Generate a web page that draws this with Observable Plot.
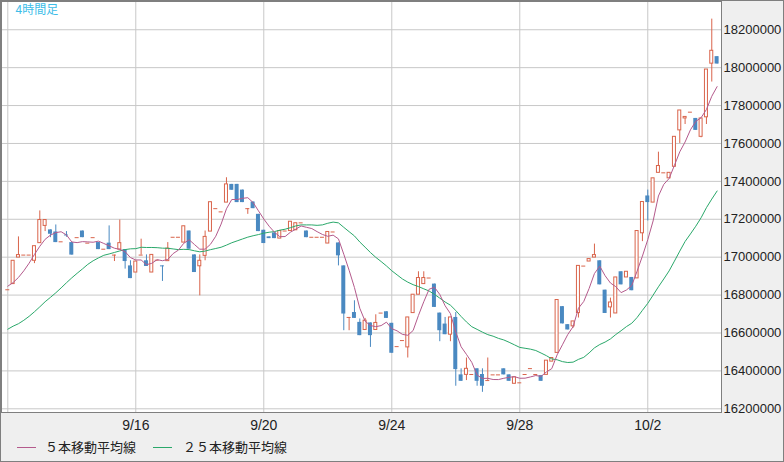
<!DOCTYPE html>
<html><head><meta charset="utf-8">
<script src="https://cdn.jsdelivr.net/npm/d3@7"></script>
<script src="https://cdn.jsdelivr.net/npm/@observablehq/plot@0.6"></script>
<style>
html,body{margin:0;padding:0;background:#efefef;}
#wrap{width:784px;height:462px;box-sizing:border-box;border:1px solid #7f7f7f;background:#efefef;position:relative;overflow:hidden;}
#chart svg{display:block;}
.lg-line{position:absolute;height:1px;width:19px;}
.lg-text{position:absolute;font-family:"Noto Sans CJK JP",sans-serif;font-size:13px;color:#222;line-height:16px;white-space:nowrap;}
</style></head><body>
<div id="wrap"><div id="chart"></div>
<div class="lg-line" style="left:16px;top:446px;background:#b45a8c"></div>
<div class="lg-text" style="left:44px;top:438px">５本移動平均線</div>
<div class="lg-line" style="left:152px;top:446px;background:#2aa86a"></div>
<div class="lg-text" style="left:182px;top:438px">２５本移動平均線</div>
</div>
<script>
// 4-hour bars starting 9/12 00:00
const barStart = "2025-09-12T00:00Z";
const barHours = 4;
const open = [16828000,16858000,16998000,17011000,17011000,16981000,17074000,17165000,17144000,17133000,
17081000,17117000,17077000,17103000,17138000,17074000,17103000,17077000,17042000,17074000,
17011000,17040000,17040000,16954000,16919000,17011000,16981000,16919000,16984000,16954000,
16979000,17105000,17105000,17077000,17138000,17012000,16952000,17007000,17135000,17256000,
17239000,17288000,17384000,17384000,17354000,17256000,17291000,17226000,17142000,17107000,
17128000,17098000,17138000,17138000,17142000,17181000,17138000,17105000,17105000,17105000,
17072000,17133000,17075000,16954000,16682000,16708000,16656000,16616000,16653000,16616000,
16705000,16712000,16651000,16528000,16560000,16524000,16705000,16802000,16858000,16890000,
16858000,16705000,16647000,16591000,16682000,16379000,16379000,16381000,16411000,16381000,
16349000,16379000,16379000,16411000,16379000,16332000,16337000,16381000,16412000,16381000,
16375000,16379000,16449000,16495000,16739000,16644000,16635000,16705000,16953000,16977000,
16998000,16981000,16826000,16735000,16703000,16923000,16893000,16893000,16888000,17126000,
17323000,17288000,17445000,17445000,17416000,17477000,17669000,17732000,17765000,17732000,
17635000,17738000,18021000,18058000];
const high = [16828000,16981000,17107000,17011000,17011000,17058000,17244000,17196000,17144000,17170000,
17081000,17135000,17077000,17103000,17138000,17074000,17103000,17077000,17042000,17165000,
17011000,17196000,17040000,16981000,16977000,17095000,17012000,17012000,16984000,16954000,
17077000,17105000,17105000,17163000,17138000,17012000,17012000,17138000,17290000,17256000,
17239000,17419000,17384000,17384000,17354000,17256000,17291000,17226000,17142000,17107000,
17128000,17138000,17138000,17187000,17179000,17181000,17138000,17105000,17105000,17105000,
17133000,17133000,17075000,16954000,16682000,16770000,16674000,16677000,16653000,16696000,
16705000,16712000,16651000,16528000,16560000,16682000,16802000,16923000,16923000,16890000,
16858000,16705000,16682000,16682000,16708000,16411000,16468000,16381000,16411000,16411000,
16468000,16379000,16379000,16411000,16379000,16366000,16337000,16381000,16412000,16381000,
16375000,16454000,16468000,16774000,16739000,16644000,16661000,16954000,16953000,16990000,
17069000,16981000,16826000,16784000,16893000,16923000,16923000,16893000,17138000,17291000,
17354000,17416000,17554000,17445000,17445000,17635000,17774000,17740000,17765000,17732000,
17732000,17990000,18256000,18058000];
const low = [16828000,16858000,16998000,17011000,17011000,16966000,17074000,17135000,17103000,17077000,
17081000,17105000,17011000,17103000,17103000,17074000,17103000,17040000,17042000,17040000,
16977000,17040000,16937000,16887000,16919000,17011000,16951000,16919000,16984000,16872000,
16979000,17105000,17105000,17077000,17042000,16919000,16796000,16981000,17135000,17256000,
17239000,17288000,17353000,17288000,17288000,17226000,17256000,17135000,17072000,17098000,
17098000,17098000,17138000,17138000,17142000,17181000,17103000,17105000,17105000,17105000,
17072000,17133000,16954000,16612000,16612000,16677000,16586000,16616000,16524000,16616000,
16705000,16677000,16493000,16528000,16560000,16468000,16705000,16802000,16858000,16890000,
16735000,16554000,16591000,16554000,16319000,16345000,16349000,16381000,16319000,16287000,
16349000,16379000,16379000,16379000,16345000,16332000,16337000,16381000,16412000,16381000,
16345000,16379000,16449000,16495000,16648000,16616000,16625000,16679000,16953000,16977000,
16998000,16854000,16703000,16679000,16703000,16854000,16893000,16823000,16888000,17082000,
17191000,17288000,17445000,17445000,17416000,17477000,17600000,17700000,17765000,17669000,
17630000,17700000,17924000,18019000];
const close = [16828000,16981000,17011000,17011000,17011000,17058000,17196000,17196000,17121000,17077000,
17081000,17112000,17011000,17103000,17103000,17074000,17103000,17040000,17042000,17040000,
17011000,17074000,16977000,16887000,16977000,17011000,16951000,17012000,16984000,16949000,
17045000,17105000,17105000,17163000,17042000,16919000,16981000,17107000,17290000,17256000,
17239000,17384000,17353000,17288000,17288000,17256000,17256000,17135000,17072000,17098000,
17098000,17138000,17138000,17187000,17179000,17181000,17103000,17105000,17105000,17105000,
17133000,17133000,17007000,16700000,16682000,16677000,16586000,16665000,16586000,16653000,
16705000,16677000,16493000,16528000,16560000,16682000,16802000,16890000,16890000,16890000,
16735000,16612000,16591000,16682000,16407000,16345000,16411000,16381000,16345000,16319000,
16349000,16379000,16379000,16379000,16345000,16366000,16337000,16381000,16412000,16381000,
16345000,16454000,16468000,16774000,16648000,16616000,16661000,16954000,16953000,16990000,
17011000,16854000,16703000,16761000,16893000,16854000,16923000,16823000,17138000,17291000,
17288000,17416000,17481000,17445000,17445000,17635000,17774000,17740000,17765000,17669000,
17732000,17990000,18089000,18019000];
// moving-average values at the first bars (their windows reach back before the visible range)
const ma5Lead = [16847000,16866000,16893000,16928000];
const ma25Lead = [16620000,16636000,16649000,16667000,16688000,16712000,16738000,16765000,16788000,16812000,
16838000,16865000,16891000,16915000,16938000,16962000,16981000,16996000,17010000,17017000,
17025000,17033000,17040000,17044000];
const yTicks = [16200000,16400000,16600000,16800000,17000000,17200000,17400000,17600000,17800000,18000000,18200000];
const xGridDays = ["2025-09-12","2025-09-16","2025-09-20","2025-09-24","2025-09-28","2025-10-02"];
const xLabelDays = ["2025-09-16","2025-09-20","2025-09-24","2025-09-28","2025-10-02"];
const chartTitle = "4時間足";

const RED = "#d9644b", BLUE = "#4a89c1", MA5C = "#b45a8c", MA25C = "#2aa86a", GRID = "#c8c8c8";
const HOUR = 3600e3, t0 = +new Date(barStart);
const bars = close.map((c, i) => ({
  date: new Date(t0 + i * barHours * HOUR), open: open[i], high: high[i], low: low[i], close: c,
  ma5: i < 4 ? ma5Lead[i] : d3.mean(close.slice(i - 4, i + 1)),
  ma25: i < 24 ? ma25Lead[i] : d3.mean(close.slice(i - 24, i + 1))
}));
const up = bars.filter(d => d.close > d.open);
const down = bars.filter(d => d.close < d.open);
const flat = bars.filter(d => d.close === d.open);
const shift = (d, h) => new Date(+d.date + h * HOUR);

const chart = Plot.plot({
  width: 782, height: 434,
  marginLeft: 0, marginRight: 62, marginTop: 0, marginBottom: 23,
  style: {fontFamily: "'Liberation Sans', Arial, sans-serif", fontSize: "14px", color: "#222", background: "transparent", overflow: "visible"},
  x: {type: "utc", domain: [new Date(t0 - 4.725 * HOUR), new Date(t0 + 535.3 * HOUR)]},
  y: {domain: [16180500, 18349000]},
  marks: [
    Plot.frame({fill: "white", stroke: "none"}),
    Plot.gridY(yTicks, {stroke: GRID, strokeOpacity: 1}),
    Plot.gridX(xGridDays.map(s => new Date(s + "T00:00Z")), {stroke: GRID, strokeOpacity: 1}),
    Plot.axisY(yTicks, {anchor: "right", tickSize: 0, tickPadding: 2, tickFormat: d => String(d), fontSize: 13}),
    Plot.axisX(xLabelDays.map(s => new Date(s + "T00:00Z")), {anchor: "bottom", tickSize: 0, tickPadding: 8, tickFormat: d3.utcFormat("%-m/%-d"), fontSize: 14}),
    Plot.ruleX(bars, {x: "date", y1: "low", y2: "high", stroke: d => d.close < d.open ? BLUE : RED, strokeWidth: 1}),
    Plot.rect(down, {x1: d => shift(d, -1.5), x2: d => shift(d, 1.5), y1: "open", y2: "close", fill: BLUE}),
    Plot.rect(up, {x1: d => shift(d, -1.125), x2: d => shift(d, 1.125), y1: "open", y2: "close", fill: "white", stroke: RED, strokeWidth: 1}),
    Plot.ruleY(flat, {y: "close", x1: d => shift(d, -1.5), x2: d => shift(d, 1.5), stroke: RED, strokeWidth: 1}),
    Plot.line(bars, {x: "date", y: "ma25", stroke: MA25C, strokeWidth: 1}),
    Plot.line(bars, {x: "date", y: "ma5", stroke: MA5C, strokeWidth: 1}),
    Plot.text([chartTitle], {frameAnchor: "top-left", dx: 14, dy: 4, lineAnchor: "top", textAnchor: "start", fill: "#3dbde8", fontSize: 12, fontFamily: "'Noto Sans CJK JP', sans-serif"}),
    Plot.frame({stroke: "#7f7f7f", fill: "none"})
  ]
});
document.getElementById("chart").appendChild(chart);
</script>
</body></html>
